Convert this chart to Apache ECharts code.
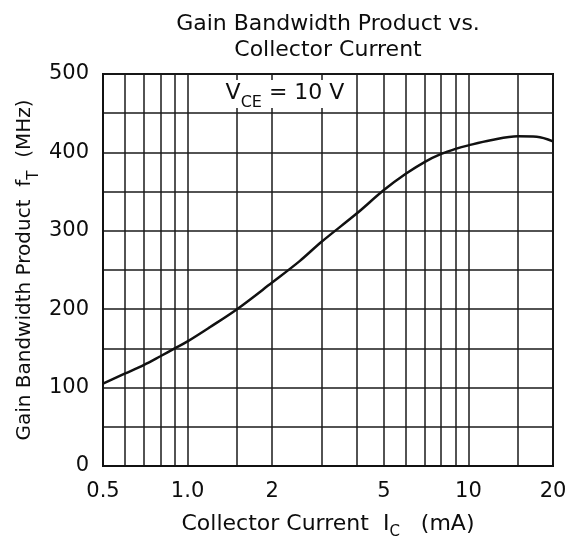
<!DOCTYPE html>
<html>
<head>
<meta charset="utf-8">
<script src="https://cdn.jsdelivr.net/npm/echarts@6/dist/echarts.min.js"></script>
<style>
  html, body { margin: 0; padding: 0; background: #fff; }
  #chart { width: 568px; height: 538px; }
</style>
</head>
<body>
<div id="chart"></div>
<script>
// Collector current (mA) and gain bandwidth product fT (MHz), VCE = 10 V
const currentMA = [0.5, 0.6, 0.7, 0.8, 0.9, 1.0, 1.2, 1.5, 2, 2.5, 3, 4, 5, 6, 7, 8, 9, 10, 12, 15, 17.5, 20];
const ftMHz     = [105, 118, 129, 140, 150, 159, 177, 200, 234, 261, 286, 322, 352, 373, 388, 398, 404.5, 409, 415.5, 420.5, 420, 414];

// Log-scale x axis: labelled ticks and vertical grid lines
const xTickValues = [0.5, 1, 2, 5, 10, 20];
const xTickLabels = ['0.5', '1.0', '2', '5', '10', '20'];
const xGridValues = [0.5, 0.6, 0.7, 0.8, 0.9, 1, 1.5, 2, 3, 4, 5, 6, 7, 8, 9, 10, 15, 20];

// Linear y axis
const yTickValues = [0, 100, 200, 300, 400, 500];
const yGridStep = 50;

const FONT = 'DejaVu Sans';
const INK = '#0d0d0d';
const log10 = Math.log10;

const chart = echarts.init(document.getElementById('chart'), null, { renderer: 'canvas' });

const gridLeft = 103, gridRight = 15, gridTop = 74, gridBottom = 72;
const plotCenterX = gridLeft + (568 - gridLeft - gridRight) / 2;

function nameRich(size) {
  return {
    a: { fontFamily: FONT, fontSize: size, color: INK, lineHeight: size + 2, verticalAlign: 'top' },
    s: { fontFamily: FONT, fontSize: 15, color: INK, lineHeight: 15, verticalAlign: 'top', padding: [12, 0, 0, 0] }
  };
}

const gridLine = { color: '#1a1a1a', width: 1.5 };

chart.setOption({
  animation: false,
  backgroundColor: '#fff',
  grid: {
    left: gridLeft, right: gridRight, top: gridTop, bottom: gridBottom,
    containLabel: false,
    outerBoundsMode: 'none',
    show: true, borderColor: '#111', borderWidth: 2
  },
  graphic: [
    {
      type: 'text',
      x: plotCenterX, y: 11,
      style: {
        text: 'Gain Bandwidth Product vs.\nCollector Current',
        fontFamily: FONT, fontSize: 22, lineHeight: 26,
        fill: INK, align: 'center', verticalAlign: 'top'
      }
    },
    {
      type: 'text',
      x: 285, y: 80, z: 10,
      style: {
        text: '{v|V}{s|CE}{v| = 10 V}',
        align: 'center', verticalAlign: 'top',
        backgroundColor: '#fff',
        padding: [2, 6, 2, 6],
        rich: {
          v: { fontFamily: FONT, fontSize: 22, fill: INK, lineHeight: 24, verticalAlign: 'top' },
          s: { fontFamily: FONT, fontSize: 16, fill: INK, lineHeight: 16, verticalAlign: 'top', padding: [13, 0, 0, 0] }
        }
      }
    }
  ],
  xAxis: {
    type: 'value',
    min: log10(0.5),
    max: log10(20),
    name: '{a|Collector Current  I}{s|C}{a|   (mA)}',
    nameLocation: 'middle',
    nameGap: 47,
    nameMoveOverlap: false,
    nameTextStyle: { rich: nameRich(22) },
    axisLine: { show: true, onZero: false, lineStyle: { color: '#111', width: 2 } },
    axisTick: { show: false, customValues: xGridValues.map(log10) },
    splitLine: { show: true, lineStyle: gridLine },
    axisLabel: {
      customValues: xTickValues.map(log10),
      fontFamily: FONT, fontSize: 21, color: INK, margin: 15,
      formatter: function (v) {
        const i = xTickValues.findIndex(t => Math.abs(log10(t) - v) < 1e-6);
        return i >= 0 ? xTickLabels[i] : '';
      }
    }
  },
  yAxis: {
    type: 'value',
    min: 0, max: 500, interval: yGridStep,
    name: '{a|Gain Bandwidth Product  f}{s|T}{a|  (MHz)}',
    nameLocation: 'middle',
    nameRotate: 90,
    nameGap: 66,
    nameMoveOverlap: false,
    nameTextStyle: { rich: nameRich(20) },
    axisLine: { show: true, onZero: false, lineStyle: { color: '#111', width: 2 } },
    axisTick: { show: false },
    splitLine: { show: true, lineStyle: gridLine },
    axisLabel: {
      customValues: yTickValues,
      fontFamily: FONT, fontSize: 21, color: INK, margin: 14
    }
  },
  series: [{
    type: 'line',
    data: currentMA.map((c, i) => [log10(c), ftMHz[i]]),
    smooth: 0.35,
    symbol: 'none',
    lineStyle: { color: '#111', width: 2.5 },
    z: 5
  }]
});
</script>
</body>
</html>
